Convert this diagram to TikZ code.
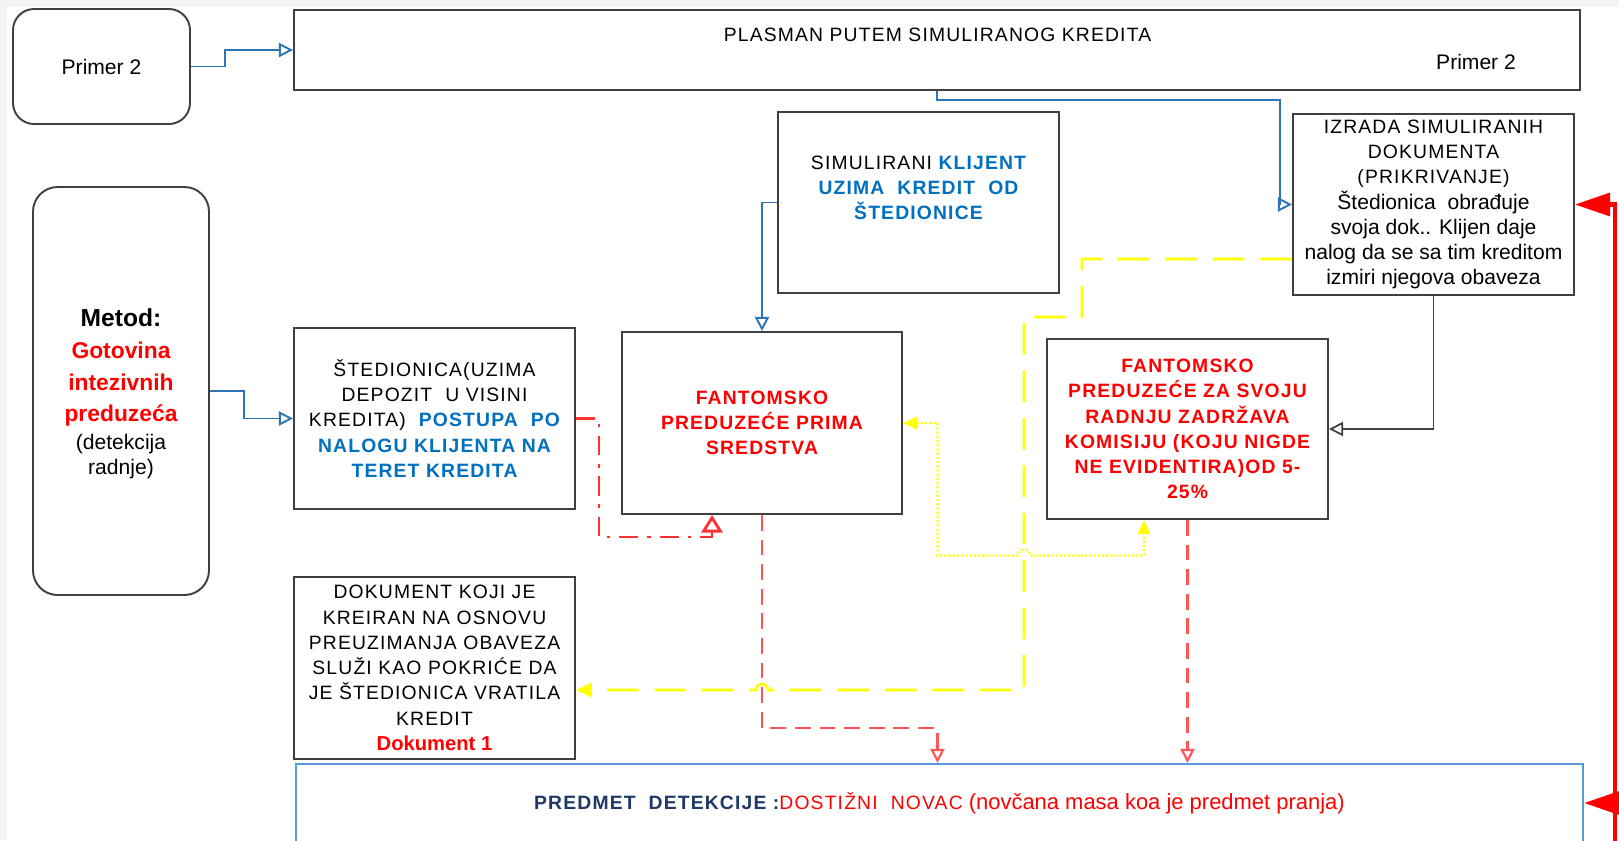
\documentclass[tikz,border=0pt]{standalone}
\usepackage{fontspec}
\setmainfont{Liberation Sans}
\newfontfamily\capsf[LetterSpace=6]{Liberation Sans}
\usetikzlibrary{arrows.meta}
\definecolor{bxgray}{RGB}{64,64,64}
\definecolor{cblue}{RGB}{46,117,182}
\definecolor{pblue}{RGB}{91,155,213}
\definecolor{tblue}{RGB}{0,112,192}
\definecolor{dblue}{RGB}{31,56,100}
\definecolor{rdash}{RGB}{255,85,85}
\definecolor{rdd}{RGB}{255,50,50}
\definecolor{ylw}{RGB}{255,255,0}
\definecolor{bggray}{RGB}{244,244,244}
\newcommand\cp[1]{{\capsf\fontsize{11}{14.4}\selectfont #1}}
\newcommand\bl[1]{\textcolor{tblue}{\capsf\bfseries #1}}
\begin{document}
\begin{tikzpicture}[x=0.02cm,y=-0.02cm,
  bx/.style 2 args={draw=bxgray, line width=1.1pt, fill=white, inner sep=0pt,
    minimum width=#1*0.02cm, minimum height=#2*0.02cm, align=center},
  captxt/.style={font=\capsf\fontsize{11}{14.4}\selectfont},
  capbtxt/.style={font=\capsf\bfseries\fontsize{11}{14.4}\selectfont},
  lctxt/.style={font=\fontsize{12}{14.4}\selectfont},
  blarrow/.style={draw=cblue, line width=1.1pt, -{Triangle[open,length=8pt,width=8pt]}},
  grarrow/.style={draw=bxgray, line width=1pt, -{Triangle[open,length=8pt,width=8pt]}},
  rddarrow/.style={draw=rdd, line width=1.6pt, dash pattern=on 11pt off 5pt on 2pt off 5pt,
    -{Triangle[open,length=10pt,width=12pt]}},
  rdarrow/.style={draw=rdash, line width=1.2pt, dash pattern=on 9pt off 5pt,
    -{Triangle[open,length=8pt,width=8pt]}},
  ydarrow/.style={draw=ylw, line width=1.5pt, dash pattern=on 18pt off 9pt,
    -{Triangle[length=9pt,width=8pt]}},
  ydotarrow/.style={draw=ylw, line width=1.2pt, dash pattern=on 1.2pt off 1.2pt,
    {Triangle[length=8pt,width=7pt]}-{Triangle[length=8pt,width=7pt]}},
  rthick/.style={draw=red, line width=2.3pt, -{Triangle[length=20pt,width=13pt]}}
]
\useasboundingbox (0,0) rectangle (1619,840);
\clip (0,0) rectangle (1619,840);
\fill[bggray] (0,0) rectangle (1619,840);
\fill[white] (7,7) rectangle (1619,840);

% boxes
\node[bx={177}{115}, rounded corners=12pt, lctxt] (primer) at (101.5,66.5) {Primer 2};
\node[bx={1286}{80}] (plasman) at (937,50) {};
\node[captxt] (plt) at (937.5,35) {PLASMAN PUTEM SIMULIRANOG KREDITA};
\node[lctxt] (plp) at (1476,62) {Primer 2};

\node[bx={176}{408}, rounded corners=14pt] (metod) at (121,391) {};
\node[align=center, font=\bfseries\fontsize{13}{14}\selectfont] (mt) at (121,394)
  {{\fontsize{14}{14}\selectfont Metod:}\\[4pt]
   \textcolor{red}{Gotovina}\\[4pt]
   \textcolor{red}{intezivnih}\\[4pt]
   \textcolor{red}{preduzeća}\\[2pt]
   {\mdseries\fontsize{12}{14}\selectfont (detekcija}\\
   {\mdseries\fontsize{12}{14}\selectfont radnje)}};

\node[bx={281}{181}, captxt] (sted) at (434.5,418.5)
  {ŠTEDIONICA(UZIMA\\DEPOZIT\ \ U VISINI\\KREDITA)\ \ \bl{POSTUPA\ \ PO}\\\bl{NALOGU KLIJENTA NA}\\\bl{TERET KREDITA}};

\node[bx={281}{181}] (sim) at (918.5,202.5) {};
\node[captxt, align=center] (simt) at (918.5,188)
  {SIMULIRANI \bl{KLIJENT}\\\bl{UZIMA\ \ KREDIT\ \ OD}\\\bl{ŠTEDIONICE}};

\node[bx={280}{182}, capbtxt, text=red] (fant1) at (762,423)
  {FANTOMSKO\\PREDUZEĆE PRIMA\\SREDSTVA};

\node[bx={281}{181}, lctxt] (izrada) at (1433.5,204.5)
  {\cp{IZRADA SIMULIRANIH}\\\cp{DOKUMENTA}\\\cp{(PRIKRIVANJE)}\\Štedionica\ \ obrađuje\\svoja dok.. Klijen daje\\nalog da se sa tim kreditom\\izmiri njegova obaveza};

\node[bx={281}{180}, capbtxt, text=red] (fant2) at (1187.5,429)
  {FANTOMSKO\\PREDUZEĆE ZA SVOJU\\RADNJU ZADRŽAVA\\KOMISIJU (KOJU NIGDE\\NE EVIDENTIRA)OD 5-\\25\%};

\node[bx={281}{182}, captxt] (dok) at (434.5,668)
  {DOKUMENT KOJI JE\\KREIRAN NA OSNOVU\\PREUZIMANJA OBAVEZA\\SLUŽI KAO POKRIĆE DA\\JE ŠTEDIONICA VRATILA\\KREDIT\\{\normalfont\bfseries\fontsize{11.5}{14.4}\selectfont\color{red}Dokument 1}};

\node[draw=pblue, line width=1.2pt, fill=white, inner sep=0pt,
  minimum width=1287*0.02cm, minimum height=78*0.02cm,
  font=\fontsize{12.5}{15}\selectfont] (predmet) at (939.5,803)
  {\textcolor{dblue}{\cp{\bfseries PREDMET\ \ DETEKCIJE :}}\textcolor{red}{\cp{DOSTIŽNI\ \ NOVAC} (novčana masa koa je predmet pranja)}};

% connectors
\draw[blarrow] (primer.east) -- (225,66.5) -- (225,50) -- (plasman.west |- 0,50);
\draw[blarrow] (metod.east) -- (244,391) |- (sted.west);
\draw[blarrow] (plasman.south) |- (1280,100) |- (izrada.west);
\draw[blarrow] (sim.west) -| (fant1.north);
\draw[grarrow] (izrada.south) |- (fant2.east);
\draw[rddarrow] (sted.east) -- (599,418.5) -- (599,537) -- (712,537) -- (fant1.south -| 712,0);
\draw[rdarrow] (fant1.south) |- (937.5,728) -- (predmet.north -| 937.5,0);
\draw[rdarrow] (fant2.south) -- (predmet.north -| fant2.south);
\draw[ydarrow] (izrada.west |- 0,259) -- (1082,259) -- (1082,317) -- (1024,317) -- (1024,690)
  -- (768,690) arc (0:-180:6) -- (dok.east |- 0,690);
\draw[ydotarrow] (fant1.east) -- (937.5,423) -- (937.5,555.5) -- (1018,555.5) arc (180:360:6)
  -- (1144,555.5) -- (fant2.south -| 1144,0);
\coordinate (rb) at (1615,845);
\coordinate (rm) at (1615,803);
\draw[rthick] (rb) |- (izrada.east);
\draw[rthick] (rm) -- (predmet.east);
\end{tikzpicture}
\end{document}
